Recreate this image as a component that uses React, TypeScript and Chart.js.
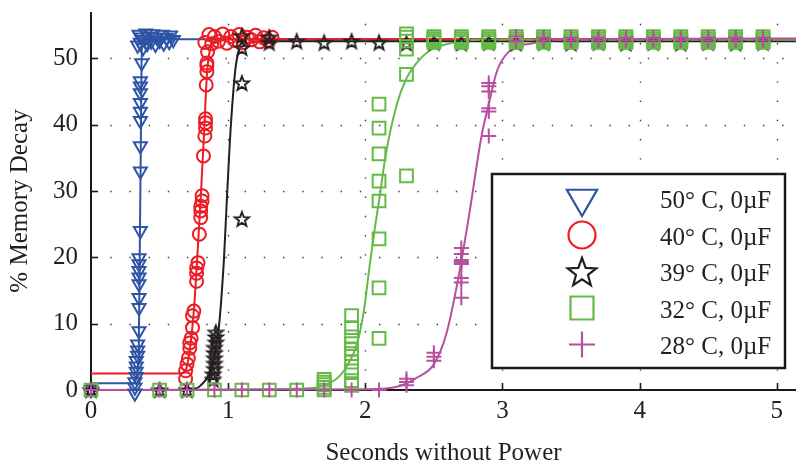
import React, { useEffect, useRef } from 'react';
import { Chart, registerables } from 'chart.js';

Chart.register(...registerables);

type P = [number, number];

// ---------- data (seconds without power, % memory decay) ----------
const tri50: P[] = [
  [0, 0], [0.32, -0.5], [0.32, 0.4], [0.32, 1.2], [0.33, 2.0], [0.33, 2.8], [0.33, 3.6], [0.33, 4.4], [0.34, 5.2], [0.34, 6.0], [0.34, 6.9],
  [0.35, 8.9], [0.35, 12.4], [0.35, 13.9], [0.35, 16.0], [0.35, 17.0], [0.35, 18.0], [0.35, 19.0], [0.35, 19.9],
  [0.36, 24.0], [0.36, 33.0], [0.36, 36.8], [0.36, 40.6], [0.36, 42.0], [0.36, 43.3], [0.36, 44.8], [0.36, 45.8], [0.36, 46.6], [0.37, 49.3],
  [0.34, 52.0], [0.35, 53.6], [0.36, 52.4], [0.37, 53.2], [0.38, 51.6], [0.39, 52.8], [0.4, 53.8], [0.41, 52.2], [0.42, 53.3],
  [0.44, 52.6], [0.45, 53.7], [0.47, 52.1], [0.48, 53.2], [0.5, 52.7], [0.52, 53.6], [0.53, 52.3], [0.55, 53.1], [0.57, 52.5], [0.58, 53.5], [0.6, 52.8],
];
const circ40: P[] = [
  [0, 0],
  [0.69, 1.7], [0.69, 2.9], [0.7, 3.9], [0.71, 4.8], [0.72, 6.3], [0.72, 7.1], [0.73, 7.8], [0.74, 9.4], [0.74, 11.2], [0.75, 11.9],
  [0.77, 16.4], [0.77, 17.6], [0.77, 18.4], [0.78, 19.2], [0.79, 23.5], [0.8, 26.0], [0.8, 27.0], [0.8, 27.7], [0.81, 28.5], [0.81, 29.3],
  [0.82, 35.3], [0.83, 38.3], [0.835, 39.5], [0.835, 40.3], [0.835, 40.9], [0.84, 46.0], [0.845, 48.0], [0.845, 48.9], [0.845, 49.3], [0.85, 51.0],
  [0.83, 52.4], [0.86, 53.6], [0.88, 52.2], [0.9, 53.3], [0.93, 52.6], [0.96, 53.7], [0.99, 52.3], [1.02, 53.3], [1.05, 52.7], [1.08, 53.6],
  [1.11, 52.4], [1.14, 53.2], [1.17, 52.8], [1.2, 53.5], [1.23, 52.5], [1.26, 53.1], [1.29, 52.7], [1.32, 53.2],
];
const star39: P[] = [
  [0, 0], [0.5, 0], [0.7, 0],
  [0.89, 1.6], [0.89, 2.4], [0.9, 3.2], [0.9, 4.0], [0.9, 4.8], [0.9, 5.6], [0.9, 6.4], [0.91, 7.2], [0.91, 8.0], [0.91, 8.7],
  [1.1, 25.8], [1.1, 46.3], [1.1, 51.6], [1.1, 53.4], [1.3, 52.4], [1.3, 53.2], [1.5, 52.6], [1.7, 52.4], [1.9, 52.6], [2.1, 52.4],
  [2.3, 52.3], [2.5, 52.4], [2.7, 52.3], [2.9, 52.4], [3.1, 52.3], [3.3, 52.4], [3.5, 52.3], [3.7, 52.4], [3.9, 52.3],
  [4.1, 52.4], [4.3, 52.3], [4.5, 52.4], [4.7, 52.3], [4.9, 52.4],
];
const sq32: P[] = [
  [0, 0], [0.5, 0], [0.7, 0], [0.9, 0], [1.1, 0], [1.3, 0], [1.5, 0],
  [1.7, 0], [1.7, 0.4], [1.7, 0.8], [1.7, 1.2], [1.7, 1.6],
  [1.9, 0.7], [1.9, 1.4], [1.9, 2.9], [1.9, 4.2], [1.9, 5.5], [1.9, 6.2], [1.9, 7.0], [1.9, 8.0], [1.9, 9.4], [1.9, 11.2],
  [2.1, 7.8], [2.1, 15.4], [2.1, 22.8], [2.1, 28.5], [2.1, 31.5], [2.1, 35.6], [2.1, 39.5], [2.1, 43.1],
  [2.3, 32.3], [2.3, 47.6], [2.3, 51.4], [2.3, 52.6], [2.3, 53.2], [2.3, 53.7],
  [2.5, 52.4], [2.5, 52.7], [2.5, 53.0], [2.5, 53.3], [2.7, 52.4], [2.7, 52.7], [2.7, 53.0], [2.7, 53.3],
  [2.9, 52.4], [2.9, 52.7], [2.9, 53.0], [2.9, 53.3], [3.1, 52.4], [3.1, 52.7], [3.1, 53.0], [3.1, 53.3],
  [3.3, 52.4], [3.3, 52.7], [3.3, 53.0], [3.3, 53.3], [3.5, 52.4], [3.5, 52.7], [3.5, 53.0], [3.5, 53.3],
  [3.7, 52.4], [3.7, 52.7], [3.7, 53.0], [3.7, 53.3], [3.9, 52.4], [3.9, 52.7], [3.9, 53.0], [3.9, 53.3],
  [4.1, 52.4], [4.1, 52.7], [4.1, 53.0], [4.1, 53.3], [4.3, 52.4], [4.3, 52.7], [4.3, 53.0], [4.3, 53.3],
  [4.5, 52.4], [4.5, 52.7], [4.5, 53.0], [4.5, 53.3], [4.7, 52.4], [4.7, 52.7], [4.7, 53.0], [4.7, 53.3],
  [4.9, 52.4], [4.9, 52.7], [4.9, 53.0], [4.9, 53.3],
];
const plus28: P[] = [
  [0, 0], [0.5, 0], [0.7, 0], [0.9, 0], [1.1, 0], [1.3, 0], [1.5, 0], [1.7, 0], [1.9, 0], [2.1, 0],
  [2.3, 0.7], [2.3, 1.2], [2.3, 1.7],
  [2.5, 4.4], [2.5, 5.0], [2.5, 5.6],
  [2.7, 13.9], [2.7, 16.2], [2.7, 16.9], [2.7, 19.0], [2.7, 19.3], [2.7, 19.6], [2.7, 20.5], [2.7, 21.4],
  [2.9, 38.3], [2.9, 42.0], [2.9, 42.5], [2.9, 45.0], [2.9, 45.8], [2.9, 46.3],
  [3.1, 52.6], [3.1, 53.3], [3.3, 52.7], [3.3, 53.1], [3.5, 52.7], [3.5, 53.1], [3.7, 52.7], [3.7, 53.1], [3.9, 52.7], [3.9, 53.1],
  [4.1, 52.7], [4.1, 53.1], [4.3, 52.7], [4.3, 53.1], [4.5, 52.7], [4.5, 53.1], [4.7, 52.7], [4.7, 53.1], [4.9, 52.7], [4.9, 53.1],
];

// fitted curves
const fit50: P[] = [[0, 1.0], [0.3, 1.0], [0.345, 4], [0.36, 30], [0.372, 52.4], [0.42, 52.9], [5.14, 52.9]];
const fit40: P[] = [[0, 2.5], [0.65, 2.5], [0.69, 3.0], [0.72, 6], [0.75, 12], [0.775, 20], [0.8, 29], [0.825, 39], [0.845, 47.5], [0.87, 51.5], [0.92, 52.7], [1.0, 52.9], [5.14, 52.9]];
const fit39: P[] = [[0, 0], [0.72, 0], [0.8, 0.7], [0.87, 3], [0.93, 9], [0.97, 20], [0.99, 28.5], [1.02, 40], [1.06, 49.5], [1.12, 52], [1.25, 52.6], [5.14, 52.6]];
const fit32: P[] = [[0, 0], [1.5, 0.2], [1.77, 1.4], [1.86, 3.4], [1.94, 7], [1.99, 12], [2.03, 18.5], [2.07, 24.5], [2.1, 28.5], [2.15, 35.6], [2.23, 43.1], [2.3, 47], [2.37, 49.2], [2.47, 51.2], [2.62, 52.3], [2.85, 52.8], [5.14, 52.8]];
const fit28: P[] = [[0, 0], [2.0, 0.1], [2.25, 0.6], [2.37, 1.8], [2.5, 3.9], [2.59, 8.4], [2.67, 16], [2.75, 25.5], [2.85, 38.6], [2.9, 43.1], [2.96, 48.1], [3.05, 51.1], [3.22, 52.3], [3.42, 52.8], [5.14, 53.0]];

const legendLabels = ['50° C, 0µF', '40° C, 0µF', '39° C, 0µF', '32° C, 0µF', '28° C, 0µF'];
const xTitle = 'Seconds without Power';
const yTitle = '% Memory Decay';
const xRange = [0, 5.14];
const yRange = [0, 57];

// ---------- styles ----------
const FONT = "'Liberation Serif', 'Times New Roman', serif";
const TEXT = '#231f20';
const BLUE = '#2e54a5';
const RED = '#ed1c24';
const BLACK = '#231f20';
const GREEN = '#64b947';
const MAGENTA = '#b6509e';

function starPath(ctx: CanvasRenderingContext2D, cx: number, cy: number, r: number) {
  ctx.beginPath();
  for (let i = 0; i < 10; i++) {
    const rr = i % 2 === 0 ? r : r * 0.42;
    const a = -Math.PI / 2 + (i * Math.PI) / 5;
    const px = cx + rr * Math.cos(a);
    const py = cy + rr * Math.sin(a);
    if (i === 0) ctx.moveTo(px, py);
    else ctx.lineTo(px, py);
  }
  ctx.closePath();
}

function makeStar(r: number, lw: number, color: string) {
  const size = 2 * Math.ceil(r + lw + 1);
  const c = document.createElement('canvas');
  c.width = size;
  c.height = size;
  const g = c.getContext('2d')!;
  g.strokeStyle = color;
  g.lineWidth = lw;
  g.lineJoin = 'miter';
  starPath(g, size / 2, size / 2 + r * 0.1, r);
  g.stroke();
  return c;
}

const legendKinds = ['tri', 'circle', 'star', 'square', 'plus'];
const legendColors = [BLUE, RED, BLACK, GREEN, MAGENTA];

function drawLegendMarker(ctx: CanvasRenderingContext2D, kind: string, cx: number, cy: number, color: string) {
  ctx.save();
  ctx.strokeStyle = color;
  ctx.lineWidth = 2.2;
  ctx.beginPath();
  if (kind === 'tri') {
    const r = 17.5;
    ctx.moveTo(cx, cy + r);
    ctx.lineTo(cx - r * 0.866, cy - r / 2);
    ctx.lineTo(cx + r * 0.866, cy - r / 2);
    ctx.closePath();
  } else if (kind === 'circle') {
    ctx.arc(cx, cy, 13.5, 0, Math.PI * 2);
  } else if (kind === 'star') {
    starPath(ctx, cx, cy + 1.5, 15);
  } else if (kind === 'square') {
    ctx.rect(cx - 11.5, cy - 11.5, 23, 23);
  } else {
    ctx.moveTo(cx - 13, cy);
    ctx.lineTo(cx + 13, cy);
    ctx.moveTo(cx, cy - 13);
    ctx.lineTo(cx, cy + 13);
  }
  ctx.stroke();
  ctx.restore();
}

const framePlugin = {
  id: 'frame',
  beforeDatasetsDraw(chart: any) {
    const { ctx, chartArea: a, scales } = chart;
    const xs = scales.x;
    const ys = scales.y;
    ctx.save();
    // dotted grid
    ctx.strokeStyle = '#3a3a3a';
    ctx.lineWidth = 1.4;
    ctx.setLineDash([1.4, 17.8]);
    for (const t of ys.ticks) {
      if (t.value === 0) continue;
      const py = Math.round(ys.getPixelForValue(t.value)) + 0.5;
      ctx.beginPath();
      ctx.moveTo(a.left, py);
      ctx.lineTo(a.right, py);
      ctx.stroke();
    }
    for (const t of xs.ticks) {
      if (t.value === 0) continue;
      const px = Math.round(xs.getPixelForValue(t.value)) + 0.5;
      ctx.beginPath();
      ctx.moveTo(px, a.bottom);
      ctx.lineTo(px, a.top);
      ctx.stroke();
    }
    ctx.setLineDash([]);
    // axes
    ctx.strokeStyle = '#1a1a1a';
    ctx.lineWidth = 2;
    ctx.beginPath();
    ctx.moveTo(a.left, a.top);
    ctx.lineTo(a.left, a.bottom);
    ctx.lineTo(a.right, a.bottom);
    ctx.stroke();
    // inward ticks
    ctx.lineWidth = 1.6;
    for (const t of xs.ticks) {
      const px = Math.round(xs.getPixelForValue(t.value)) + 0.5;
      ctx.beginPath();
      ctx.moveTo(px, a.bottom);
      ctx.lineTo(px, a.bottom - 7);
      ctx.stroke();
    }
    for (const t of ys.ticks) {
      const py = Math.round(ys.getPixelForValue(t.value)) + 0.5;
      ctx.beginPath();
      ctx.moveTo(a.left, py);
      ctx.lineTo(a.left + 7, py);
      ctx.stroke();
    }
    ctx.restore();
  },
  afterDraw(chart: any) {
    const { ctx } = chart;
    ctx.save();
    const bx = 492, by = 174, bw = 293, bh = 194;
    ctx.fillStyle = '#fff';
    ctx.fillRect(bx, by, bw, bh);
    ctx.strokeStyle = '#1a1a1a';
    ctx.lineWidth = 2.5;
    ctx.strokeRect(bx, by, bw, bh);
    ctx.font = `25px ${FONT}`;
    ctx.fillStyle = TEXT;
    ctx.textAlign = 'left';
    ctx.textBaseline = 'alphabetic';
    legendLabels.forEach((lab, i) => {
      const rowY = 200 + i * 36.5;
      drawLegendMarker(ctx, legendKinds[i], 582, rowY - 1.5, legendColors[i]);
      ctx.fillText(lab, 660, rowY + 8);
    });
    ctx.restore();
  },
};

const toXY = (arr: P[]) => arr.map(([x, y]) => ({ x, y }));

const noPad = (s: any) => {
  s.paddingLeft = 0;
  s.paddingRight = 0;
  s.paddingTop = 0;
  s.paddingBottom = 0;
};

export default function App() {
  const ref = useRef<HTMLCanvasElement>(null);
  useEffect(() => {
    const canvas = ref.current!;
    const starImg = makeStar(7.5, 1.9, BLACK);
    const marker = (data: P[], color: string, style: any, radius: number, order: number, extra: any = {}) => ({
      data: toXY(data),
      showLine: false,
      clip: false,
      pointStyle: style,
      pointRadius: radius,
      pointBorderColor: color,
      pointBackgroundColor: 'rgba(0,0,0,0)',
      pointBorderWidth: 2,
      borderColor: color,
      order,
      ...extra,
    });
    const line = (data: P[], color: string, order: number) => ({
      data: toXY(data),
      showLine: true,
      clip: false,
      pointRadius: 0,
      borderColor: color,
      borderWidth: 2,
      cubicInterpolationMode: 'monotone',
      order,
    });
    const chart = new Chart(canvas, {
      type: 'scatter',
      data: {
        datasets: [
          line(fit50, BLUE, 14),
          line(fit40, RED, 13),
          line(fit39, BLACK, 12),
          line(fit32, GREEN, 11),
          line(fit28, MAGENTA, 10),
          marker(circ40, RED, 'circle', 6.5, 5),
          marker(tri50, BLUE, 'triangle', 7.5, 4, { pointRotation: 180 }),
          marker(star39, BLACK, starImg, 7.5, 3),
          marker(sq32, GREEN, 'rect', 9, 2),
          marker(plus28, MAGENTA, 'cross', 7.5, 1),
        ] as any,
      },
      options: {
        responsive: false,
        animation: false,
        devicePixelRatio: 1,
        events: [],
        layout: { autoPadding: false, padding: { top: 12, left: 0, right: 0, bottom: 0 } },
        plugins: { legend: { display: false }, tooltip: { enabled: false } },
        scales: {
          x: {
            type: 'linear',
            min: xRange[0],
            max: xRange[1],
            afterFit: (s: any) => { s.height = 73; noPad(s); },
            grid: { display: false, drawTicks: false },
            border: { display: false },
            ticks: {
              stepSize: 1,
              includeBounds: false,
              padding: 6,
              color: TEXT,
              maxRotation: 0,
              autoSkip: false,
              font: { family: FONT, size: 25 },
            },
            title: {
              display: true,
              text: xTitle,
              color: TEXT,
              font: { family: FONT, size: 25, lineHeight: 0.8 },
              padding: { top: 0, bottom: 0 },
            },
          },
          y: {
            type: 'linear',
            min: yRange[0],
            max: yRange[1],
            afterFit: (s: any) => { s.width = 91; noPad(s); },
            grid: { display: false, drawTicks: false },
            border: { display: false },
            ticks: {
              stepSize: 10,
              includeBounds: false,
              padding: 13,
              color: TEXT,
              font: { family: FONT, size: 25 },
            },
            title: {
              display: true,
              text: yTitle,
              color: TEXT,
              font: { family: FONT, size: 25, lineHeight: 1 },
              padding: { top: 8, bottom: 0 },
            },
          },
        },
      } as any,
      plugins: [framePlugin],
    });
    return () => chart.destroy();
  }, []);
  return (
    <div style={{ position: 'absolute', left: 0, top: 0, width: 796, height: 463, background: '#fff' }}>
      <canvas ref={ref} width={796} height={463} style={{ display: 'block' }} />
    </div>
  );
}
